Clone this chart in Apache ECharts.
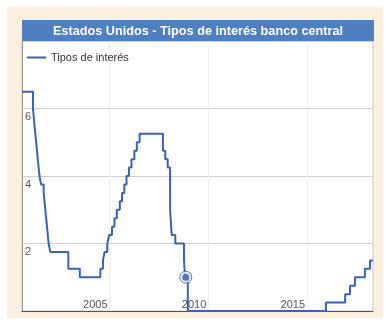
<!DOCTYPE html>
<html><head><meta charset="utf-8">
<script src="https://cdn.jsdelivr.net/npm/echarts@6/dist/echarts.min.js"></script>
<style>html,body{margin:0;padding:0;background:#fff}#c{width:390px;height:328px}</style>
</head><body><div id="c"></div>
<script>
const titleText = 'Estados Unidos - Tipos de interés banco central';
const seriesName = 'Tipos de interés';
const changeDates = ['2000-07-27','2001-02-15','2001-03-15','2001-04-15','2001-05-15','2001-06-15','2001-07-15','2001-09-01','2001-10-01','2001-11-01','2001-12-01','2002-01-01','2002-12-01','2003-07-01','2004-07-15','2004-09-01','2004-10-01','2004-11-20','2004-12-25','2005-02-15','2005-04-01','2005-05-15','2005-07-10','2005-08-20','2005-10-01','2005-11-10','2005-12-25','2006-02-10','2006-04-05','2006-05-20','2006-07-10','2007-09-15','2007-10-28','2007-12-12','2008-01-25','2008-02-25','2008-04-30','2008-10-08','2008-10-29','2008-12-18','2015-12-16','2016-12-05','2017-03-05','2017-06-05','2017-12-05','2018-03-10','2018-05-04'];
const rates = [6.5,6.0,5.5,5.0,4.5,4.0,3.75,3.5,3.0,2.5,2.0,1.75,1.25,1.0,1.25,1.5,1.75,2.0,2.25,2.5,2.75,3.0,3.25,3.5,3.75,4.0,4.25,4.5,4.75,5.0,5.25,4.75,4.5,4.25,3.0,2.25,2.0,1.5,1.0,0.0,0.25,0.5,0.75,1.0,1.25,1.5,1.5];
const highlightDate = '2008-11-10';
const highlightValue = 1.0;
const xTicks = ['2005-01-01','2010-01-01','2015-01-01'];
const yTicks = [2,4,6];
const xMin = '2000-07-27', xMax = '2018-05-04';

const t = s => Date.parse(s + 'T00:00:00Z');
const chart = echarts.init(document.getElementById('c'));
const lineData = changeDates.map((d,i)=>[t(d), rates[i]]);
const blue = '#3a63b0';
const font = '"Liberation Sans", Arial, sans-serif';
chart.setOption({
  animation:false,
  backgroundColor:'#ffffff',
  graphic:[
    {type:'rect', shape:{x:7,y:7,width:376,height:311}, style:{fill:'#fdf0e1'}, z:-10},
    {type:'rect', shape:{x:22,y:20,width:352,height:21}, style:{fill:'#4f7fc0'}, z:10},
    {type:'text', x:198, y:31, style:{text:titleText, fill:'#fff', font:'bold 12.7px ' + font, align:'center', verticalAlign:'middle'}, z:11}
  ],
  legend:{
    left:22, top:47, data:[{name:seriesName, icon:'rect'}], itemWidth:19, itemHeight:2, itemGap:5,
    textStyle:{fontSize:11, color:'#333', fontFamily:font}
  },
  grid:{left:22, right:17, top:41, bottom:17, show:true, backgroundColor:'#fff', borderColor:'#c8c8c8', borderWidth:1},
  xAxis:{
    type:'value', min:t(xMin), max:t(xMax),
    axisLine:{show:true, lineStyle:{color:'#555', width:1}},
    axisTick:{show:false, customValues:xTicks.map(t)},
    splitLine:{show:true, lineStyle:{color:'#eeeeee'}},
    axisLabel:{inside:true, customValues:xTicks.map(t), align:'right', verticalAlign:'bottom', margin:1, padding:[0,2,0,0],
      fontSize:11, color:'#555', fontFamily:font,
      formatter:v=>String(new Date(v).getUTCFullYear())}
  },
  yAxis:{
    type:'value', min:0, max:8, interval:2,
    axisLine:{show:true, lineStyle:{color:'#999'}},
    axisTick:{show:false},
    splitLine:{show:true, lineStyle:{color:'#d0d0d0'}},
    axisLabel:{inside:true, margin:3, verticalAlign:'top', padding:[3,0,0,0], fontSize:11, color:'#555',
      fontFamily:font,
      formatter:v=> yTicks.indexOf(v)>=0 ? String(v) : ''}
  },
  series:[
    {name:seriesName, type:'line', step:'end', data:lineData, showSymbol:false, color:blue,
     lineStyle:{width:2, color:blue}},
    {type:'scatter', data:[[t(highlightDate), highlightValue]], symbolSize:12, z:5,
     itemStyle:{color:'#e6edf8', borderColor:'#3a63b0', borderWidth:1}},
    {type:'scatter', data:[[t(highlightDate), highlightValue]], symbolSize:7, z:6,
     itemStyle:{color:'#2f5cb0'}}
  ]
});
</script></body></html>
